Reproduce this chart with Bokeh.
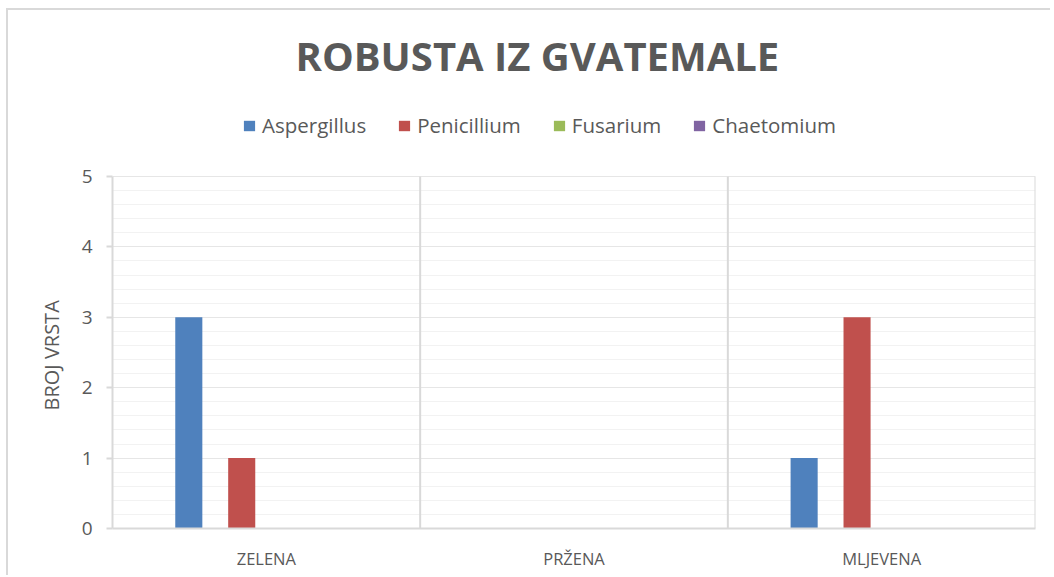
from bokeh.plotting import figure
from bokeh.models import (FactorRange, Range1d, Legend, LegendItem, Label, Title,
                          FixedTicker, ColumnDataSource)
from bokeh.transform import dodge
from bokeh.embed import file_html
from bokeh.resources import INLINE

categories = ["ZELENA", "PRŽENA", "MLJEVENA"]
series_names = ["Aspergillus", "Penicillium", "Fusarium", "Chaetomium"]
aspergillus = [3, 0, 1]
penicillium = [1, 0, 3]
fusarium = [0, 0, 0]
chaetomium = [0, 0, 0]
colors = ["#4f81bd", "#c0504d", "#9bbb59", "#8064a2"]
y_ticks = [0, 1, 2, 3, 4, 5]
title_text = "ROBUSTA IZ GVATEMALE"
y_title = "BROJ VRSTA"

FONT = "Open Sans"
GREY = "#595959"
LINE = "#d9d9d9"

ymin, ymax = y_ticks[0], y_ticks[-1]
data = {"cat": categories, "Aspergillus": aspergillus, "Penicillium": penicillium,
        "Fusarium": fusarium, "Chaetomium": chaetomium}

p = figure(width=1044, height=567, x_range=FactorRange(*categories),
           y_range=Range1d(ymin, 7.287),
           output_backend="svg", toolbar_location=None,
           min_border_left=104, min_border_right=17, min_border_bottom=49, min_border_top=5)
p.styles = {"margin-left": "6px", "margin-top": "8px",
            "border-left": "2px solid #d9d9d9", "border-top": "2px solid #d9d9d9"}

# category separators (right edge of each category)
sep = ColumnDataSource({"cat": categories, "y0": [ymin] * len(categories),
                        "y1": [ymax] * len(categories)})
p.segment(x0=dodge("cat", 0.5, range=p.x_range), x1=dodge("cat", 0.5, range=p.x_range),
          y0="y0", y1="y1", source=sep, line_color=LINE, line_width=2)

offsets = [-0.252, -0.080, 0.092, 0.264]
renderers = []
for name, off, c in zip(series_names, offsets, colors):
    r = p.vbar(x=dodge("cat", off, range=p.x_range), top=name, width=0.088, source=data,
               fill_color=c, line_color=None)
    renderers.append(r)

p.outline_line_color = None
p.xgrid.grid_line_color = None
minor = [t + k * 0.2 for t in y_ticks[:-1] for k in range(1, 5)]
p.yaxis.ticker = FixedTicker(ticks=y_ticks, minor_ticks=minor)
p.yaxis.bounds = (ymin, ymax)
p.ygrid.ticker = FixedTicker(ticks=y_ticks, minor_ticks=minor)
p.ygrid.grid_line_color = "#e6e6e6"
p.ygrid.minor_grid_line_color = "#f2f2f2"

p.yaxis.axis_line_color = LINE
p.yaxis.axis_line_width = 2
p.yaxis.major_tick_line_color = LINE
p.yaxis.major_tick_line_width = 2
p.yaxis.major_tick_out = 6
p.yaxis.major_tick_in = 0
p.yaxis.minor_tick_line_color = None
p.yaxis.major_label_text_font = FONT
p.yaxis.major_label_text_font_size = "19px"
p.yaxis.major_label_text_color = GREY
p.yaxis.major_label_standoff = 14

# vertical axis title, placed beside the 0..5 part of the axis
p.add_layout(Title(text=y_title, align="left", offset=118, text_font=FONT,
                   text_font_size="20px", text_font_style="normal", text_color=GREY,
                   standoff=28), "left")

p.xaxis.axis_line_color = LINE
p.xaxis.axis_line_width = 2
p.xaxis.major_tick_line_color = None
p.xaxis.minor_tick_line_color = None
p.xaxis.major_label_text_font = FONT
p.xaxis.major_label_text_font_size = "16.5px"
p.xaxis.major_label_text_color = GREY
p.xaxis.major_label_standoff = 12

legend = Legend(items=[LegendItem(label=n, renderers=[r]) for n, r in zip(series_names, renderers)],
                orientation="horizontal", location=(130, 389),
                label_text_font=FONT, label_text_font_size="20.5px", label_text_color=GREY,
                glyph_width=14, glyph_height=13, spacing=31, label_standoff=6,
                border_line_color=None, background_fill_alpha=0, margin=0, padding=4)
p.add_layout(legend, "center")

p.add_layout(Label(x=1.381, y=6.72, text=title_text, text_align="center",
                   text_baseline="middle", text_font=FONT, text_font_size="40px",
                   text_font_style="bold", text_color=GREY))

p.background_fill_color = "white"
p.border_fill_color = "white"

open("out.html", "w").write(file_html(p, INLINE))
